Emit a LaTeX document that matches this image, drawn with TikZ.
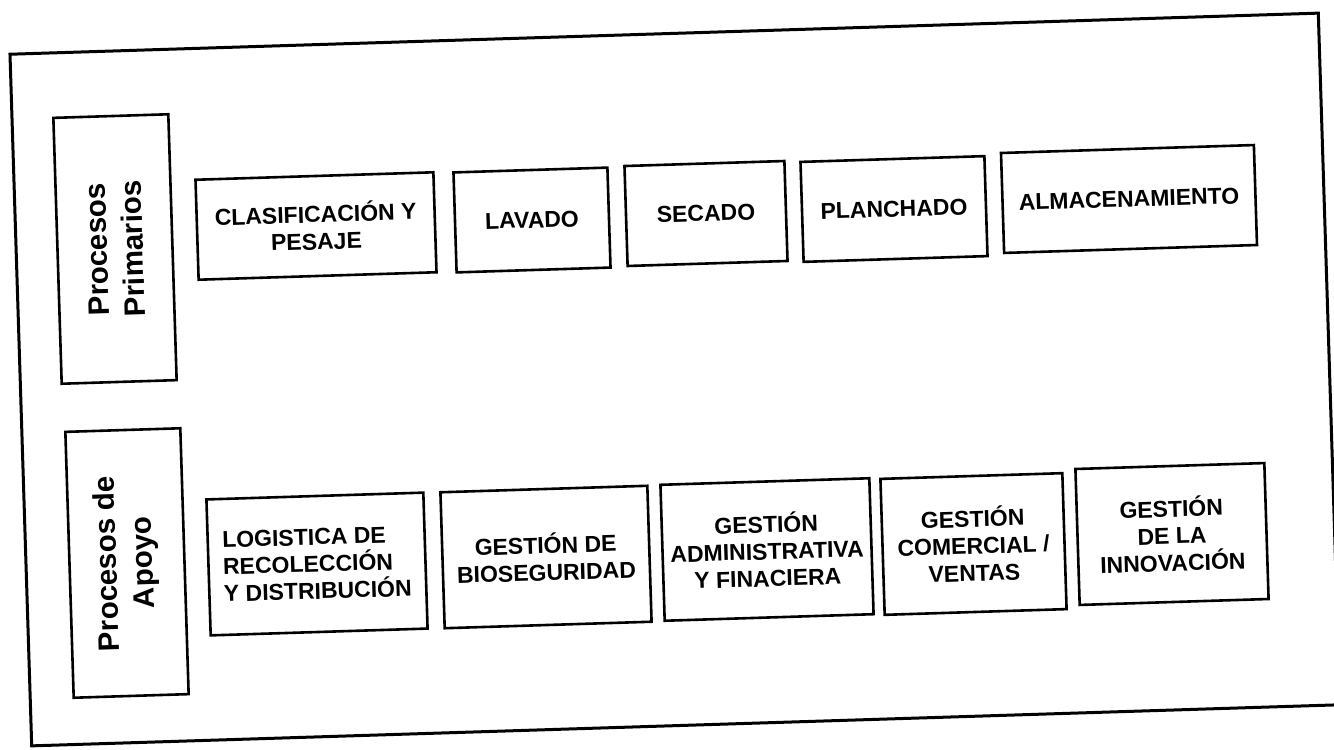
\documentclass[tikz,border=0pt]{standalone}
\usepackage{fontspec}
\setmainfont{Liberation Sans}

\begin{document}
\begin{tikzpicture}[
			x=1pt, y=-1pt,
			inclinado/.style={rotate=1.8},
			caja/.style={draw, line width=2.6pt, inner sep=2pt, align=center,
				minimum height=100pt, font=\bfseries\fontsize{23}{27}\selectfont, inclinado},
			cajaB/.style={caja, minimum height=136pt},
			lado/.style={draw, line width=2.6pt, minimum width=266pt, minimum height=115pt,
				align=center, rotate=91.8, font=\bfseries\fontsize{29.5}{36}\selectfont},
			]
			\useasboundingbox (0,0) rectangle (1334,750);
			\clip (0,0) rectangle (1334,750);
			
			\node [draw, line width=3pt, minimum width=1309pt, minimum height=692pt,
			inclinado] (marco) at (675,379.5) {};
			
			% procesos primarios
			\node [lado] (prim) at (115,249) {Procesos\\Primarios};
			\node [caja, minimum width=238pt] (p1) at (316,226) {CLASIFICACIÓN Y\\PESAJE};
			\node [caja, minimum width=154pt] (p2) at (532,220) {LAVADO};
			\node [caja, minimum width=160pt] (p3) at (706,213.5) {SECADO};
			\node [caja, minimum width=184pt] (p4) at (894,209) {PLANCHADO};
			\node [caja, minimum width=253pt] (p5) at (1129,199) {ALMACENAMIENTO};
			
			% procesos de apoyo
			\node [lado] (apoyo) at (127,563) {Procesos de\\Apoyo};
			\node [cajaB, minimum width=217pt, align=left] (a1) at (317,564)
			{LOGISTICA DE\\RECOLECCIÓN\\Y DISTRIBUCIÓN};
			\node [cajaB, minimum width=207pt] (a2) at (546,557) {GESTIÓN DE\\BIOSEGURIDAD};
			\node [cajaB, minimum width=209pt] (a3) at (767,549.5)
			{GESTIÓN\\ADMINISTRATIVA\\Y FINACIERA};
			\node [cajaB, minimum width=182pt] (a4) at (973.5,544) {GESTIÓN\\COMERCIAL /\\VENTAS};
			\node [cajaB, minimum width=189pt] (a5) at (1172,534) {GESTIÓN\\DE LA\\INNOVACIÓN};
		\end{tikzpicture}
\end{document}
